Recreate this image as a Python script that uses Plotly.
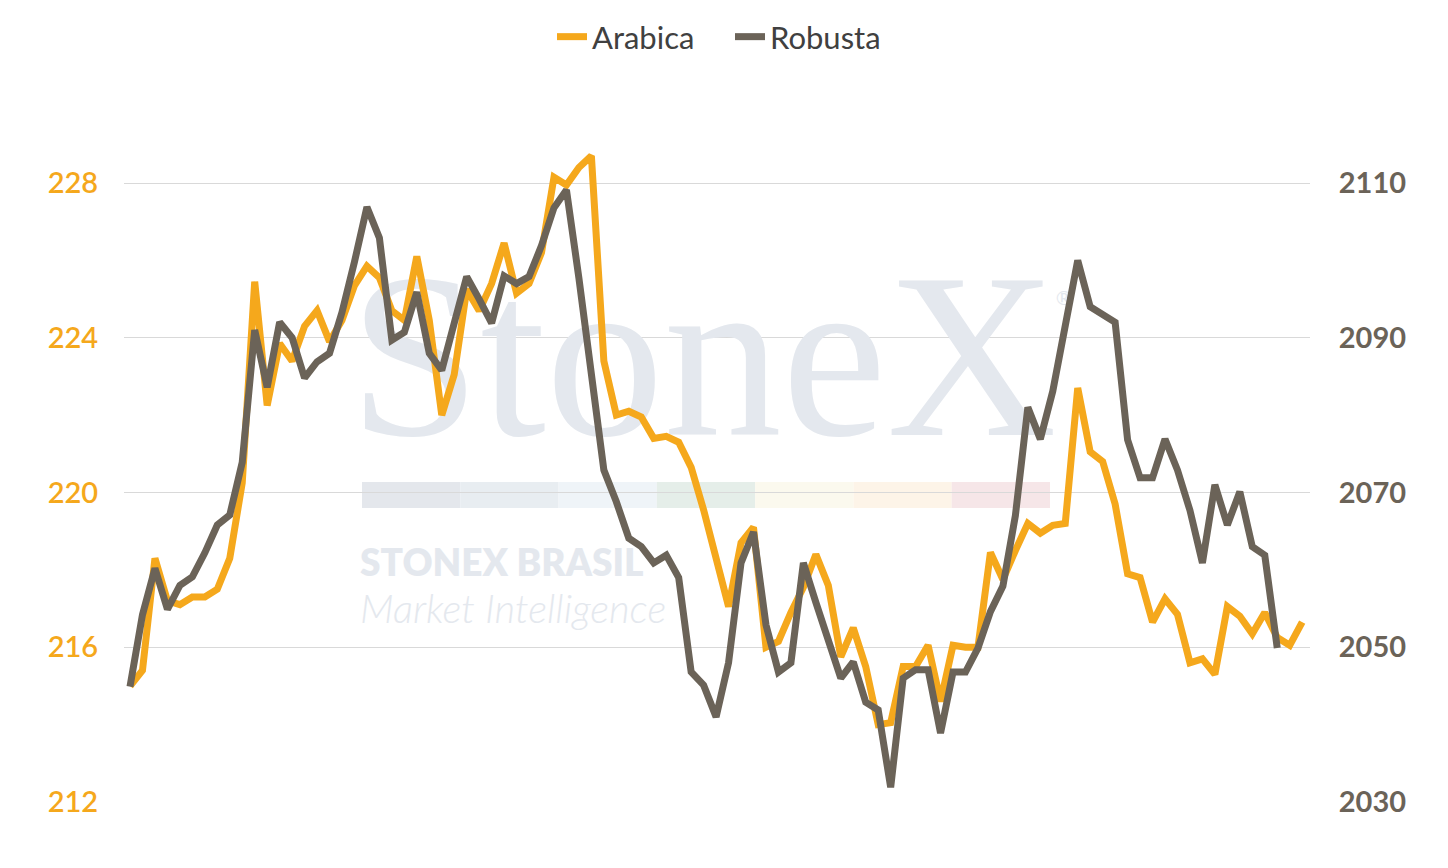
import plotly.graph_objects as go

# ---------------- data ----------------
arabica = [215.0, 215.4, 218.3, 217.2, 217.1, 217.3, 217.3, 217.5, 218.3, 220.25,
           225.45, 222.25, 223.85, 223.4, 224.3, 224.7, 223.9, 224.45, 225.35, 225.85,
           225.55, 224.7, 224.45, 226.1, 224.45, 222.0, 223.05, 225.25, 224.7, 225.4,
           226.45, 225.15, 225.4, 226.2, 228.15, 227.95, 228.4, 228.7, 223.4, 222.0,
           222.1, 221.95, 221.4, 221.45, 221.3, 220.65, 219.55, 218.25, 217.05, 218.7,
           219.1, 216.0, 216.15, 216.9, 217.55, 218.4, 217.6, 215.75, 216.5, 215.5,
           214.0, 214.05, 215.5, 215.5, 216.05, 214.6, 216.05, 216.0, 216.0, 218.45,
           217.75, 218.5, 219.2, 218.95, 219.15, 219.2, 222.7, 221.05, 220.8, 219.7,
           217.9, 217.8, 216.65, 217.25, 216.85, 215.6, 215.7, 215.3, 217.05, 216.8,
           216.35, 216.9, 216.25, 216.05, 216.65]

robusta = [2044.9, 2054.2, 2060.2, 2054.9, 2058.0, 2059.1, 2062.2, 2065.8, 2067.1, 2073.9,
           2091.0, 2083.6, 2092.0, 2090.0, 2084.8, 2086.9, 2088.0, 2093.3, 2099.8, 2106.9,
           2102.9, 2089.7, 2090.7, 2095.9, 2088.0, 2085.8, 2091.9, 2097.9, 2095.0, 2091.9,
           2098.0, 2097.0, 2097.9, 2101.9, 2106.8, 2109.1, 2097.7, 2084.8, 2072.9, 2068.8,
           2064.1, 2063.0, 2060.9, 2061.9, 2059.0, 2046.8, 2045.1, 2041.0, 2048.0, 2060.9,
           2064.9, 2052.9, 2046.8, 2048.0, 2060.9, 2055.8, 2050.9, 2046.0, 2048.1, 2042.9,
           2041.9, 2031.9, 2046.0, 2047.1, 2047.1, 2038.9, 2046.8, 2046.8, 2049.9, 2054.6,
           2057.9, 2067.0, 2081.0, 2076.9, 2083.1, 2091.1, 2100.0, 2094.0, 2093.1, 2092.0,
           2076.8, 2071.9, 2071.9, 2076.9, 2072.9, 2067.7, 2060.9, 2071.0, 2065.8, 2070.1,
           2063.0, 2061.9, 2049.9]

arabica_x = list(range(len(arabica)))
robusta_x = list(range(len(robusta)))

left_ticks = [212, 216, 220, 224, 228]
right_ticks = [2030, 2050, 2070, 2090, 2110]

series_names = ["Arabica", "Robusta"]

ORANGE = "#F5A81C"
GRAY = "#6B6358"
WM = "#E4E8EE"

# ---------------- geometry (page pixels of the reference) ----------------
W, H = 1448, 868
OFF = 8  # page body margin
PL, PR, PT, PB = 124, 1310, 140, 802
X0, DX = 130.0, 12.47
XMIN = (PL - X0) / DX
XMAX = (PR - X0) / DX


def px_x(p):
    return (p - X0) / DX


def px_y(p):
    return (PB - p) / (PB - PT)


fig = go.Figure()

# ---------------- watermark (below the lines) ----------------
wm_texts = [
    dict(t="StoneX", x=px_x(703), y=px_y(376), size=236, fam="Liberation Serif", pos="middle center", w=400, st="normal"),
    dict(t="®", x=px_x(1064), y=px_y(300), size=20, fam="Lato", pos="middle center", w=400, st="normal"),
    dict(t="STONEX BRASIL", x=px_x(360), y=px_y(567), size=37, fam="Lato", pos="middle right", w=800, st="normal"),
    dict(t="Market Intelligence", x=px_x(360), y=px_y(613), size=40, fam="Lato", pos="middle right", w=300, st="italic"),
]
for d in wm_texts:
    fig.add_trace(go.Scatter(
        x=[d["x"]], y=[d["y"]], text=[d["t"]], mode="text",
        textposition=d["pos"],
        textfont=dict(family=d["fam"], size=d["size"], color=WM, weight=d["w"], style=d["st"]),
        hoverinfo="skip", showlegend=False, cliponaxis=False, xaxis="x", yaxis="y"))

bar_colors = ["#E4E7EC", "#E8EDF1", "#EFF4F8", "#E5EEE9", "#FBF9EE", "#FDF4E8", "#F6E6E8"]
bx0, bx1 = 362, 1050
seg = (bx1 - bx0) / len(bar_colors)
for k, c in enumerate(bar_colors):
    fig.add_shape(type="rect", xref="x", yref="y",
                  x0=px_x(bx0 + k * seg), x1=px_x(bx0 + (k + 1) * seg),
                  y0=px_y(508), y1=px_y(482),
                  fillcolor=c, line=dict(width=0), layer="below")

# ---------------- data lines ----------------
fig.add_trace(go.Scatter(x=arabica_x, y=arabica, name=series_names[0], mode="lines",
                         line=dict(color=ORANGE, width=7), xaxis="x", yaxis="y2"))
fig.add_trace(go.Scatter(x=robusta_x, y=robusta, name=series_names[1], mode="lines",
                         line=dict(color=GRAY, width=7), xaxis="x", yaxis="y3"))

# ---------------- layout ----------------
a_min, a_max = 212, 212 + (PB - PT) / 38.6875
r_min, r_max = 2030, 2030 + (PB - PT) / 7.7375

fig.update_layout(
    width=W, height=H,
    margin=dict(l=PL - OFF, r=W - PR + OFF, t=PT - OFF, b=H - PB + OFF),
    paper_bgcolor="white", plot_bgcolor="white",
    showlegend=True,
    legend=dict(orientation="h", x=(552 - OFF) / W, xanchor="left", xref="container",
                y=1 - (37 - OFF) / H, yanchor="middle", yref="container",
                font=dict(family="Lato", size=31, color="#404040"),
                entrywidth=133, entrywidthmode="pixels",
                itemwidth=30, tracegroupgap=0, bgcolor="rgba(0,0,0,0)"),
    xaxis=dict(range=[XMIN, XMAX], visible=False, showgrid=False, zeroline=False),
    yaxis=dict(range=[0, 1], visible=False, showgrid=False, zeroline=False, fixedrange=True),
    yaxis2=dict(overlaying="y", side="left", range=[a_min, a_max],
                tickvals=left_ticks, ticktext=[str(v) for v in left_ticks],
                showgrid=True, gridcolor="#D9D9D9", gridwidth=1, zeroline=False,
                showline=False, ticks="outside", ticklen=19, tickcolor="rgba(0,0,0,0)",
                tickfont=dict(family="Lato", size=29, color=ORANGE, weight=600)),
    yaxis3=dict(overlaying="y", side="right", range=[r_min, r_max],
                tickvals=right_ticks, ticktext=[str(v) for v in right_ticks],
                showgrid=False, zeroline=False, showline=False,
                ticks="outside", ticklen=22, tickcolor="rgba(0,0,0,0)",
                tickfont=dict(family="Lato", size=29, color=GRAY, weight=700)),
)

fig.write_html("out.html")
